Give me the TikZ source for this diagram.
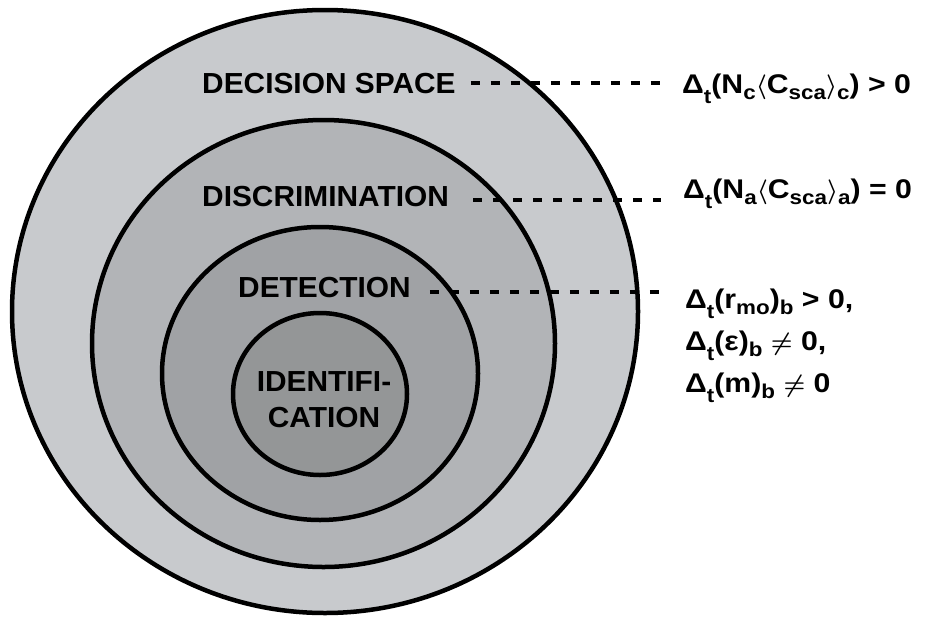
\documentclass[tikz,border=0pt]{standalone}
\usepackage{fontspec}
\setmainfont{Liberation Sans}[FakeStretch=1.03]
\newfontfamily\condfont{Liberation Sans}[FakeStretch=1.12]
\usetikzlibrary{positioning}
\definecolor{ringA}{RGB}{200,202,205}
\definecolor{ringB}{RGB}{178,180,183}
\definecolor{ringC}{RGB}{160,162,165}
\definecolor{ringD}{RGB}{148,150,151}
% lowered index in the conditions
\newcommand{\dn}[2][-6pt]{\raisebox{#1}{\fontsize{20}{20}\selectfont #2}}
\begin{document}
\begin{tikzpicture}[x=1pt,y=-1pt,
    ring/.style={draw=black,line width=4.5pt},
    lab/.style={font=\fontsize{29}{36}\selectfont\bfseries,inner sep=0pt},
    cond/.style={font=\condfont\fontsize{27}{42}\selectfont\bfseries\boldmath,inner sep=0pt,anchor=base west,align=left},
    link/.style={line width=3.5pt,dash pattern=on 9pt off 11pt}]
    \useasboundingbox (0,0) rectangle (928,621);
    \fill[white] (0,0) rectangle (928,621);
    % nested regions
    \filldraw[ring,fill=ringA] (325,311.5) ellipse [x radius=313pt,y radius=301.5pt];
    \filldraw[ring,fill=ringB] (323.5,343.5) ellipse [x radius=231.5pt,y radius=223.5pt];
    \filldraw[ring,fill=ringC] (320,373.5) ellipse [x radius=158pt,y radius=146.5pt];
    \filldraw[ring,fill=ringD] (320,394) ellipse [x radius=87pt,y radius=81pt];
    % region names
    \node[lab,anchor=base west] (dec) at (202,93) {DECISION SPACE};
    \node[lab,anchor=base west] (dis) at (202,206) {DISCRIMINATION};
    \node[lab,anchor=base west] (det) at (238,297) {DETECTION};
    \node[lab,align=center] (idn) at (324,400) {IDENTIFI-\\CATION};
    % conditions
    \node[cond] (fdec) at (682,93) {Δ\dn[-10pt]{t}(N\dn{c}$\langle$C\dn{sca}$\rangle$\dn{c}) > 0};
    \node[cond] (fdis) at (683,198) {Δ\dn[-10pt]{t}(N\dn{a}$\langle$C\dn{sca}$\rangle$\dn{a}) = 0};
    \node[cond] (fdet) at (685,392) {Δ\dn[-10pt]{t}(r\dn{mo})\dn{b} > 0,\\
        Δ\dn[-10pt]{t}(ε)\dn{b} $\neq$ 0,\\
        Δ\dn[-10pt]{t}(m)\dn{b} $\neq$ 0};
    \draw[link,shorten <=15pt,shorten >=22pt] (dec.east) -- (dec.east -| fdec.west);
    \draw[link,shorten <=24pt,shorten >=22pt] ([yshift=-4pt]dis.east) -- ([yshift=-4pt]dis.east -| fdis.west);
    \draw[link,shorten <=19pt,shorten >=24pt] ([yshift=-5pt]det.east) -- ([yshift=-5pt]det.east -| fdet.west);
\end{tikzpicture}
\end{document}
